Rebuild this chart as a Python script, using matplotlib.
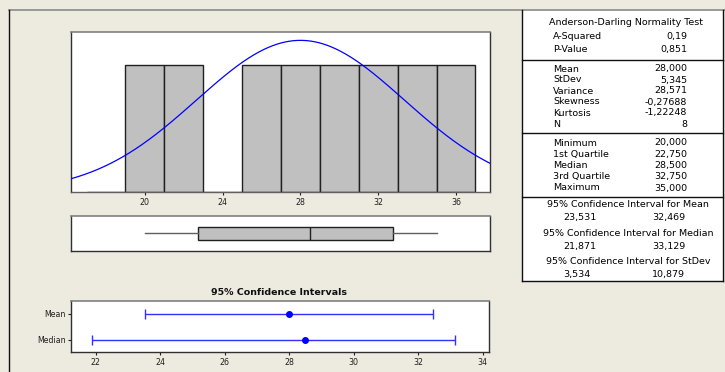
import numpy as np
import matplotlib
matplotlib.use("Agg")
import matplotlib.pyplot as plt
from matplotlib.lines import Line2D

# ---------------- data ----------------
bin_edges = [17, 19, 21, 23, 25, 27, 29, 31, 33, 35, 37]
counts = [0, 1, 1, 0, 1, 1, 1, 1, 1, 1]
mean_val = 28.0
stdev_val = 5.345
n_obs = 8
hist_ticks = [20, 24, 28, 32, 36]

box_min, box_q1, box_med, box_q3, box_max = 20.0, 22.75, 28.5, 32.75, 35.0

ci_labels = ["Mean", "Median"]
ci_centers = [28.0, 28.5]
ci_low = [23.531, 21.871]
ci_high = [32.469, 33.129]
ci_ticks = [22, 24, 26, 28, 30, 32, 34]

ad_header = "Anderson-Darling Normality Test"
ad_labels = ["A-Squared", "P-Value"]
ad_values = ["0,19", "0,851"]
mom_labels = ["Mean", "StDev", "Variance", "Skewness", "Kurtosis", "N"]
mom_values = ["28,000", "5,345", "28,571", "-0,27688", "-1,22248", "8"]
q_labels = ["Minimum", "1st Quartile", "Median", "3rd Quartile", "Maximum"]
q_values = ["20,000", "22,750", "28,500", "32,750", "35,000"]
ci_headers = ["95% Confidence Interval for Mean",
              "95% Confidence Interval for Median",
              "95% Confidence Interval for StDev"]
ci_table_low = ["23,531", "21,871", "3,534"]
ci_table_high = ["32,469", "33,129", "10,879"]

# ---------------- figure ----------------
W, H = 725, 372
BG = "#EDEAE0"
fig = plt.figure(figsize=(W / 100, H / 100), dpi=100, facecolor=BG)
plt.rcParams['font.family'] = ['DejaVu Sans']


def fx(px):
    return px / W


def fy(py):
    return 1 - py / H


def axrect(l, t, r, b):
    return [fx(l), fy(b), (r - l) / W, (b - t) / H]


def style_spines(ax):
    for s in ["left", "bottom", "right"]:
        ax.spines[s].set_color("#303030")
        ax.spines[s].set_linewidth(1.0)
    ax.spines["top"].set_color("#808080")
    ax.spines["top"].set_linewidth(1.2)


xlo, xhi = 16.2, 37.75

# Histogram
ax1 = fig.add_axes(axrect(71, 32, 490, 192))
ax1.bar(bin_edges[:-1], counts, width=np.diff(bin_edges), align="edge",
        color="#C0C0C0", edgecolor="#202020", linewidth=1.0, zorder=2)
xs = np.linspace(xlo, xhi, 400)
binw = bin_edges[1] - bin_edges[0]
ys = n_obs * binw * np.exp(-0.5 * ((xs - mean_val) / stdev_val) ** 2) / (stdev_val * np.sqrt(2 * np.pi))
ax1.plot(xs, ys, color="#0000FF", lw=0.9, zorder=3)
ax1.set_xlim(xlo, xhi)
ax1.set_ylim(0, 1.26)
ax1.set_yticks([])
ax1.set_xticks(hist_ticks)
ax1.tick_params(axis="x", labelsize=5.7, length=2.5, width=0.8, pad=1.5, colors="#202020")
style_spines(ax1)
ax1.spines["bottom"].set_color("#606060")

# Boxplot
ax2 = fig.add_axes(axrect(71, 215.5, 490, 251))
stats = [dict(med=box_med, q1=box_q1, q3=box_q3, whislo=box_min, whishi=box_max, fliers=[])]
ax2.bxp(stats, positions=[0.5], widths=0.36, vert=False, patch_artist=True, showcaps=False,
        boxprops=dict(facecolor="#C0C0C0", edgecolor="#202020", linewidth=1.0),
        medianprops=dict(color="#202020", linewidth=1.0),
        whiskerprops=dict(color="#606060", linewidth=1.0))
ax2.set_xlim(xlo, xhi)
ax2.set_ylim(0, 1)
ax2.set_xticks([])
ax2.set_yticks([])
style_spines(ax2)

# Confidence intervals
ax3 = fig.add_axes(axrect(71, 301, 489.3, 352.3))
ypos = [1, 0]
xerr = [np.array(ci_centers) - np.array(ci_low), np.array(ci_high) - np.array(ci_centers)]
ax3.errorbar(ci_centers, ypos, xerr=xerr, fmt="o", color="#0000FF", ecolor="#3030FF",
             markersize=4, elinewidth=1.0, capsize=3.5, capthick=1.0)
ax3.set_xlim(21.23, 34.2)
ax3.set_ylim(-0.47, 1.48)
ax3.set_yticks(ypos)
ax3.set_yticklabels(ci_labels)
ax3.set_xticks(ci_ticks)
ax3.tick_params(axis="both", labelsize=5.7, length=2.5, width=0.8, pad=1.5, colors="#202020")
style_spines(ax3)
fig.text(fx(279), fy(292.5), "95% Confidence Intervals", ha="center", va="center",
         fontsize=6.8, fontweight="bold", color="#101010")

# Outer frame lines
fig.add_artist(Line2D([fx(9), fx(725)], [fy(10), fy(10)], color="#8A8A8A", lw=1.2))
fig.add_artist(Line2D([fx(9), fx(9)], [fy(10), fy(372)], color="#101010", lw=1.0))

# Table frame
tl, tr, tt, tb = 522, 723, 10, 281
fig.patches.append(plt.Rectangle((fx(tl), fy(tb)), (tr - tl) / W, (tb - tt) / H,
                                 transform=fig.transFigure, facecolor="white",
                                 edgecolor="none", zorder=-1))
fig.add_artist(Line2D([fx(tl), fx(tl)], [fy(tt), fy(tb)], color="#101010", lw=1.0))
fig.add_artist(Line2D([fx(tr), fx(tr)], [fy(tt), fy(tb)], color="#101010", lw=1.0))
fig.add_artist(Line2D([fx(tl), fx(tr)], [fy(tb), fy(tb)], color="#101010", lw=1.0))
for yy in [60, 133, 197]:
    fig.add_artist(Line2D([fx(tl), fx(tr)], [fy(yy), fy(yy)], color="#101010", lw=1.0))

FS = 6.8
lab_x, val_x = 553, 687
fig.text(fx(626), fy(22.5), ad_header, ha="center", va="center", fontsize=FS)
for lab, val, yy in zip(ad_labels, ad_values, [36.5, 49.5]):
    fig.text(fx(lab_x), fy(yy), lab, ha="left", va="center", fontsize=FS)
    fig.text(fx(val_x), fy(yy), val, ha="right", va="center", fontsize=FS)
for lab, val, yy in zip(mom_labels, mom_values, [69, 80, 91, 102, 113, 124.5]):
    fig.text(fx(lab_x), fy(yy), lab, ha="left", va="center", fontsize=FS)
    fig.text(fx(val_x), fy(yy), val, ha="right", va="center", fontsize=FS)
for lab, val, yy in zip(q_labels, q_values, [143, 154, 165.5, 177, 188]):
    fig.text(fx(lab_x), fy(yy), lab, ha="left", va="center", fontsize=FS)
    fig.text(fx(val_x), fy(yy), val, ha="right", va="center", fontsize=FS)
for hdr, lo, hi, yh, yv in zip(ci_headers, ci_table_low, ci_table_high,
                               [205, 233.5, 262], [217.5, 246, 274.5]):
    fig.text(fx(628), fy(yh), hdr, ha="center", va="center", fontsize=FS)
    fig.text(fx(563), fy(yv), lo, ha="left", va="center", fontsize=FS)
    fig.text(fx(652), fy(yv), hi, ha="left", va="center", fontsize=FS)

fig.savefig("out.png", dpi=100, facecolor=BG)
